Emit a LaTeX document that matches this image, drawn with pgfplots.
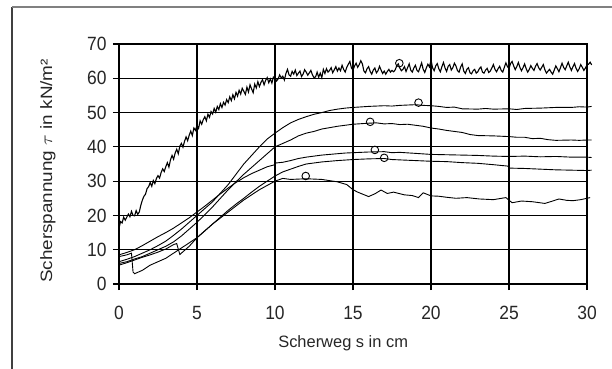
\documentclass[border=0pt]{standalone}
\usepackage{fontspec}
\setmainfont{Liberation Sans}
\usepackage{pgfplots}
\pgfplotsset{compat=1.18}
\begin{document}
\begin{tikzpicture}
\begin{axis}[
  at={(119bp,85bp)}, anchor=south west,
  scale only axis, width=468bp, height=240bp,
  xmin=0, xmax=30, ymin=0, ymax=70,
  xtick={0,5,...,30}, ytick={0,10,...,70},
  xtick pos=bottom, ytick pos=left,
  tick align=outside, major tick length=6bp,
  grid=major,
  major grid style={black, line width=1.2bp},
  axis line style={black, line width=1.2bp},
  tick style={black, line width=1.2bp},
  clip=false,
  /pgf/number format/assume math mode=true,
  ticklabel style={font=\fontsize{17.5}{19}\selectfont, text=black!85, yscale=1.1},
  xticklabel style={yshift=-11bp},
  yticklabel style={xshift=-3bp},
  xlabel={Scherweg s in cm},
  ylabel={Scherspannung $\tau$ in kN/m²},
  label style={font=\fontsize{16.5}{18}\selectfont, text=black!85},
  xlabel style={at={(axis description cs:0.479,0)}, anchor=center, yshift=-59bp},
  ylabel style={at={(axis description cs:-0.152,0.471)}, anchor=center, xscale=1.15},
]
% A: noisy top curve
\addplot[black, line width=1.1bp] coordinates {
(0.0,16.3)(0.1,18.2)(0.2,17.8)(0.3,19.5)(0.4,18.6)(0.6,20.4)(0.7,19.6)(0.8,21.2)(0.9,20.0)(1.0,19.9)
(1.1,21.4)(1.2,20.3)(1.3,21.0)(1.4,23.0)(1.5,24.5)(1.6,25.6)(1.7,26.2)(1.8,27.8)(1.9,28.4)(2.0,29.6)
(2.1,28.5)(2.2,30.2)(2.3,29.3)(2.4,30.8)(2.5,31.6)(2.6,30.9)(2.7,32.5)(2.8,33.6)(2.9,32.8)(3.0,34.2)
(3.1,35.4)(3.2,34.1)(3.3,36.2)(3.4,37.5)(3.5,36.4)(3.6,38.2)(3.7,39.3)(3.8,38.0)(3.9,40.2)(4.0,41.0)
(4.1,39.9)(4.2,41.6)(4.3,42.9)(4.4,41.8)(4.5,43.4)(4.6,44.6)(4.7,43.3)(4.8,45.5)(4.9,44.8)(5.0,46.2)
(5.1,45.4)(5.2,47.6)(5.3,46.6)(5.4,47.9)(5.5,48.8)(5.6,47.6)(5.7,49.5)(5.8,48.6)(5.9,50.3)(6.0,49.6)
(6.1,51.2)(6.2,50.1)(6.3,51.8)(6.4,50.9)(6.5,52.6)(6.6,51.5)(6.7,53.0)(6.8,52.2)(6.9,53.8)(7.0,52.9)
(7.1,54.6)(7.2,53.5)(7.3,55.2)(7.4,54.0)(7.5,55.9)(7.6,54.8)(7.7,56.5)(7.8,55.4)(7.9,57.1)(8.0,56.2)
(8.1,55.3)(8.2,57.4)(8.3,56.0)(8.4,58.1)(8.5,56.9)(8.6,55.8)(8.7,58.3)(8.8,57.2)(8.9,59.0)(9.0,57.6)
(9.1,58.8)(9.2,59.6)(9.3,58.1)(9.4,59.4)(9.5,60.2)(9.6,58.7)(9.7,59.8)(9.8,58.6)(9.9,60.4)
(10.0,60.3)(10.1,59.2)(10.2,59.8)(10.3,61.0)(10.4,60.1)(10.5,60.6)(10.6,59.5)(10.7,61.4)(10.8,62.6)(10.9,61.0)
(11.0,60.6)(11.1,62.0)(11.2,61.2)(11.3,62.4)(11.4,60.8)(11.5,61.5)(11.6,62.1)(11.7,60.5)(11.8,61.2)(11.9,62.5)
(12.0,61.8)(12.1,60.9)(12.2,61.6)(12.3,62.3)(12.4,61.0)(12.5,60.2)(12.6,60.4)(12.7,61.8)(12.8,60.3)(12.9,61.5)
(13.0,60.2)(13.1,62.6)(13.2,61.4)(13.3,62.8)(13.4,61.8)(13.5,62.3)(13.6,63.1)(13.7,61.6)(13.8,62.5)(13.9,63.4)
(14.0,62.1)(14.1,63.0)(14.2,62.2)(14.3,63.8)(14.4,62.6)(14.5,61.8)(14.6,63.2)(14.7,64.1)(14.8,64.9)(14.9,63.0)
(15.0,62.4)(15.1,63.6)(15.2,64.4)(15.3,63.2)(15.4,64.0)(15.5,65.1)(15.6,64.2)(15.7,62.1)(15.8,61.6)(15.9,62.8)
(16.0,63.4)(16.1,62.0)(16.2,61.2)(16.3,62.4)(16.4,63.0)(16.5,61.6)(16.6,62.2)(16.7,63.5)(16.8,62.4)(16.9,61.4)
(17.0,62.1)(17.1,61.2)(17.2,62.0)(17.3,62.6)(17.4,61.8)(17.5,62.3)(17.6,61.9)(17.7,62.4)(17.8,63.6)(17.9,64.2)
(18.0,63.0)(18.1,62.2)(18.2,62.6)(18.3,63.4)(18.4,62.0)(18.5,63.1)(18.6,64.2)(18.7,62.4)(18.8,61.8)(18.9,63.0)
(19.0,63.8)(19.1,62.3)(19.2,61.9)(19.3,63.2)(19.4,64.5)(19.5,62.6)(19.6,61.7)(19.7,63.0)(19.8,64.1)(19.9,63.3)
(20.0,65.3)(20.1,63.1)(20.2,62.2)(20.3,63.6)(20.4,64.3)(20.5,62.8)(20.6,61.9)(20.7,63.4)(20.8,64.6)(20.9,63.0)
(21.0,62.0)(21.1,63.5)(21.2,64.0)(21.3,62.4)(21.4,63.1)(21.5,64.4)(21.6,63.6)(21.7,62.2)(21.8,61.8)(21.9,63.3)
(22.0,64.2)(22.1,62.1)(22.2,61.4)(22.3,62.6)(22.4,63.1)(22.5,61.6)(22.6,61.3)(22.7,62.2)(22.8,62.6)(22.9,61.5)
(23.0,61.9)(23.1,62.8)(23.2,63.3)(23.3,61.8)(23.4,61.5)(23.5,62.4)(23.6,62.9)(23.7,61.7)(23.8,62.1)(23.9,63.0)
(24.0,64.0)(24.1,62.6)(24.2,61.9)(24.3,62.8)(24.4,63.5)(24.5,62.3)(24.6,61.8)(24.7,63.2)(24.8,64.5)(24.9,63.4)
(25.0,62.9)(25.1,64.3)(25.2,64.9)(25.3,63.6)(25.4,62.5)(25.5,63.4)(25.6,64.6)(25.7,63.2)(25.8,62.2)(25.9,63.1)
(26.0,64.2)(26.1,62.8)(26.2,61.8)(26.3,62.6)(26.4,63.7)(26.5,62.9)(26.6,62.3)(26.7,63.5)(26.8,64.3)(26.9,63.1)
(27.0,62.4)(27.1,63.2)(27.2,64.0)(27.3,62.5)(27.4,61.5)(27.5,62.1)(27.6,62.6)(27.7,61.8)(27.8,61.2)(27.9,62.4)
(28.0,63.6)(28.1,62.8)(28.2,61.9)(28.3,63.1)(28.4,64.4)(28.5,63.2)(28.6,62.5)(28.7,63.6)(28.8,64.7)(28.9,63.3)
(29.0,62.3)(29.1,63.4)(29.2,64.3)(29.3,62.9)(29.4,62.0)(29.5,62.8)(29.6,64.0)(29.7,63.2)(29.8,62.3)(29.9,63.0)
(30.0,63.9)(30.1,64.1)(30.2,64.7)(30.3,63.9)
};
% B
\addplot[black, line width=0.9bp] coordinates {
(0,6.5)(0.5,7.2)(1,8)(1.5,9)(2,10)(2.5,11.2)(3,12.5)(3.5,14.2)(4,16)(4.5,18)(5,20)(5.5,22)(6,24)(6.5,26.5)
(7,29)(7.5,32)(8,35)(8.5,37.5)(9,40)(9.5,42.3)(10,44)(10.5,45.6)(11,47)(11.5,48)(12,48.8)(12.5,49.5)(13,50)
(13.5,50.6)(14,51)(14.5,51.3)(15,51.5)(16,51.8)(17,52)(17.5,51.9)(18,52.1)(19,52.3)(19.5,52.1)(20,52)
(20.5,51.8)(21,51.5)(21.5,51.6)(22,51.1)(23,51)(23.5,51.2)(24,51)(25,51.1)(25.5,50.9)(26,51.2)(27,51.3)
(28,51.5)(29,51.5)(29.5,51.7)(30,51.6)(30.3,51.8)
};
% C
\addplot[black, line width=0.9bp] coordinates {
(0,6)(0.5,6.5)(1,7.3)(1.5,8)(2,9)(2.5,10)(3,11)(3.5,12.3)(4,14)(4.5,16)(5,18)(5.5,20.2)(6,22.5)(6.5,25)
(7,27.5)(7.5,29.8)(8,32)(8.5,34)(9,36)(9.5,38)(10,40)(10.5,41)(11,42)(11.5,43.2)(12,44)(12.5,44.5)(13,45.2)
(13.5,45.6)(14,46)(14.5,46.3)(15,46.6)(16,46.9)(16.5,47)(17,46.7)(17.5,46.8)(18,46.5)(18.5,46.6)(19,46.3)
(19.5,46)(20,45.5)(20.5,45.2)(21,44.8)(21.5,44.5)(22,44.2)(22.5,43.6)(23,43.3)(24,43.2)(25,43)(25.5,42.8)
(26,42.8)(26.5,42.4)(27,42.5)(27.5,42.1)(28,41.9)(29,42)(29.5,41.9)(30,42)(30.3,42)
};
% D
\addplot[black, line width=0.9bp] coordinates {
(0,8.5)(0.5,9.2)(1,10)(1.5,11.2)(2,12.5)(2.5,13.8)(3,15)(3.5,16.3)(4,17.8)(4.5,19.3)(5,21)(5.5,22.7)
(6,24.5)(6.5,26.3)(7,28)(7.5,29.6)(8,31)(8.5,32.2)(9,33.2)(9.5,34.2)(10,34.8)(10.05,35.3)(10.5,35.5)
(11,36)(11.5,36.6)(12,37)(12.5,37.3)(13,37.6)(14,38)(14.5,38.2)(15,38.3)(16,38.5)(17,38.6)(17.5,38.3)
(18,38.4)(19,38.1)(20,37.8)(21,37.7)(22,37.6)(23,37.5)(24,37.3)(25,37.2)(26,37.3)(27,37.1)(28,37.2)
(29,37)(30,37)(30.3,36.9)
};
% E
\addplot[black, line width=0.9bp] coordinates {
(0,5.5)(0.5,6.2)(1,7)(1.5,7.8)(2,8.5)(2.5,9.3)(3,10.2)(3.5,11.5)(3.7,11.8)(3.9,8.6)(4.2,9.8)(4.5,11)
(5,13.5)(5.5,15.5)(6,17.5)(6.5,19.5)(7,21.5)(7.5,23.3)(8,25)(8.5,26.8)(9,28.5)(9.5,30)(10,31.5)
(10.5,32.7)(11,33.5)(11.5,34.3)(12,35)(12.5,35.3)(13,35.6)(14,36)(15,36.3)(16,36.5)(17,36.6)(17.5,36.3)
(18,36.2)(19,36)(20,35.8)(21,35.7)(22,35.4)(23,35.2)(24,34.8)(24.9,34.4)(25.05,33.8)(26,33.7)(27,33.5)
(28,33.3)(29,33.2)(30,33.1)(30.3,33.2)
};
% F
\addplot[black, line width=0.9bp] coordinates {
(0,8)(0.5,8.5)(0.8,9)(0.9,3.5)(1,3)(1.5,4)(2,5.5)(3,7.5)(4,10.5)(5,13.5)(6,17.5)(7,21)(8,24.5)(9,27.5)
(10,30)(10.5,30.8)(11,30.5)(12,30.7)(13,30.5)(14,29.8)(14.6,29)(15,27.5)(15.3,26.8)(16,25.5)(16.4,26.3)
(16.8,27.4)(17.2,26.4)(17.6,26.8)(18.3,26)(18.8,25.8)(19.2,25.2)(19.5,26.6)(20,25.7)(20.5,25.6)(21,25.3)
(21.6,25)(22.3,25.2)(23.1,24.8)(24,24.6)(24.8,25.2)(25.2,23.7)(25.8,24.2)(26.5,24)(27.3,23.5)(27.8,24.2)
(28.2,24.8)(28.7,24.4)(29.1,24.3)(29.6,24.6)(30.2,25.2)
};
% circle markers
\addplot[only marks, mark=o, mark size=3.8bp, black, line width=0.9bp, mark options={fill=white}] coordinates {
(17.97,64.4)(19.2,52.9)(16.1,47.3)(16.4,39.1)(17.0,36.8)(11.97,31.5)
};
\end{axis}
\draw[black!75, line width=1.6bp] (12bp,0bp) -- (12bp,362bp);
\draw[black!50, line width=1.6bp] (12bp,362bp) -- (612bp,362bp);
\pgfresetboundingbox
\useasboundingbox (0bp,0bp) rectangle (612bp,369bp);
\end{tikzpicture}
\end{document}
